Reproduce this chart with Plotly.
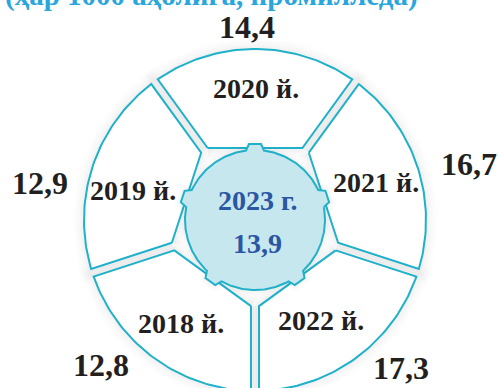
import numpy as np
import plotly.graph_objects as go

# ---- data ----
years = ["2020 й.", "2021 й.", "2022 й.", "2018 й.", "2019 й."]
values = [14.4, 16.7, 17.3, 12.8, 12.9]
center_year = "2023 г."
center_value = 13.9
title_text = "(ҳар 1000 аҳолига, промилледа)"

# ---- styling / geometry (layout, not data) ----
W, H = 498, 388
CX, CY = 255, 220          # ring centre in pixels from top-left
R_OUT = 171                # outer radius
APO = 72                   # apothem of inner pentagon edge
GAP = 4                    # half gap between segments
R_C = 70                   # centre circle radius
LINE = "#1fb1c9"
FILL_C = "#c7e7ef"
TXT_C = "#2a56a2"
TITLE_C = "#29a6dc"
FONT = "Liberation Serif"

# label positions (pixels from top-left)
value_pos = [(247, 27), (469, 164), (401, 368), (101, 365), (40, 183)]
year_pos = [(256, 88), (376, 182), (321, 320), (181, 323), (133, 190)]


def fmt(v):
    return f"{v:.1f}".replace(".", ",")


def px(x, y):
    return x - CX, CY - y


n = len(years)
step = 360.0 / n
half = np.radians(step / 2)

fig = go.Figure()


def segment_poly(theta_deg):
    y1 = (APO * np.sin(half) - GAP) / np.cos(half)
    t2 = np.sqrt(R_OUT ** 2 - GAP ** 2)
    p2 = np.array([t2 * np.cos(half) + GAP * np.sin(half), t2 * np.sin(half) - GAP * np.cos(half)])
    phi2 = np.arctan2(p2[1], p2[0])
    arc = np.linspace(phi2, -phi2, 60)
    xs = [APO, p2[0]] + list(R_OUT * np.cos(arc)) + [APO, APO]
    ys = [y1, p2[1]] + list(R_OUT * np.sin(arc)) + [-y1, y1]
    th = np.radians(theta_deg)
    xs, ys = np.array(xs), np.array(ys)
    X = xs * np.cos(th) - ys * np.sin(th)
    Y = xs * np.sin(th) + ys * np.cos(th)
    return X, Y


angles = [90 - step * k for k in range(n)]

# soft shadows
for th in angles:
    X, Y = segment_poly(th)
    for w, a in [(24, 0.008), (18, 0.01), (12, 0.012), (7, 0.015)]:
        fig.add_trace(go.Scatter(x=X, y=Y, mode="lines", line=dict(color=f"rgba(0,0,0,{a})", width=w),
                                 hoverinfo="skip", showlegend=False))

# segments
for th, yr in zip(angles, years):
    X, Y = segment_poly(th)
    fig.add_trace(go.Scatter(x=X, y=Y, mode="lines", fill="toself", fillcolor="white",
                             line=dict(color=LINE, width=2), name=yr, hoverinfo="name", showlegend=False))

# centre circle with tabs
tab_top_r, tab_top_w, tab_base_w = 76, 6, 9
beta = np.arcsin(tab_base_w / R_C)
tab_angles = sorted([np.radians(a % 360) for a in angles])
cx_pts, cy_pts = [], []
for i, c in enumerate(tab_angles):
    nxt = tab_angles[(i + 1) % n] + (2 * np.pi if i == n - 1 else 0)
    u, v = np.array([np.cos(c), np.sin(c)]), np.array([-np.sin(c), np.cos(c)])
    ub = np.sqrt(R_C ** 2 - tab_base_w ** 2)
    for (uu, vv) in [(ub, -tab_base_w), (tab_top_r, -tab_top_w), (tab_top_r, tab_top_w), (ub, tab_base_w)]:
        p = uu * u + vv * v
        cx_pts.append(p[0]); cy_pts.append(p[1])
    arc = np.linspace(c + beta, nxt - beta, 50)
    cx_pts += list(R_C * np.cos(arc)); cy_pts += list(R_C * np.sin(arc))
cx_pts.append(cx_pts[0]); cy_pts.append(cy_pts[0])
for w, a in [(12, 0.012), (7, 0.018)]:
    fig.add_trace(go.Scatter(x=cx_pts, y=cy_pts, mode="lines", line=dict(color=f"rgba(0,0,0,{a})", width=w),
                             hoverinfo="skip", showlegend=False))
fig.add_trace(go.Scatter(x=cx_pts, y=cy_pts, mode="lines", fill="toself", fillcolor=FILL_C,
                         line=dict(color=LINE, width=2), hoverinfo="skip", showlegend=False))

ann = []
for (x, y), v in zip(value_pos, values):
    X, Y = px(x, y)
    ann.append(dict(x=X, y=Y, text=fmt(v), showarrow=False,
                    font=dict(family=FONT, size=32, color="#231f20", weight="bold")))
for (x, y), yr in zip(year_pos, years):
    X, Y = px(x, y)
    ann.append(dict(x=X, y=Y, text=yr, showarrow=False,
                    font=dict(family=FONT, size=28, color="#231f20", weight="bold")))
X, Y = px(258, 200)
ann.append(dict(x=X, y=Y, text=center_year, showarrow=False,
                font=dict(family=FONT, size=28, color=TXT_C, weight="bold")))
X, Y = px(257, 243)
ann.append(dict(x=X, y=Y, text=fmt(center_value), showarrow=False,
                font=dict(family=FONT, size=28, color=TXT_C, weight="bold")))
ann.append(dict(x=211 / W, y=1 + 5 / H, xref="paper", yref="paper", text=title_text, showarrow=False,
                xanchor="center", yanchor="middle",
                font=dict(family=FONT, size=29, color=TITLE_C, weight="bold")))

fig.update_layout(
    width=W, height=H, margin=dict(l=0, r=0, t=0, b=0),
    paper_bgcolor="white", plot_bgcolor="white",
    xaxis=dict(range=[-CX, W - CX], visible=False, fixedrange=True),
    yaxis=dict(range=[CY - H, CY], visible=False, fixedrange=True),
    annotations=ann, showlegend=False,
)

fig.write_html("out.html", config={"displayModeBar": False},
               post_script="document.body.style.margin='0';")
